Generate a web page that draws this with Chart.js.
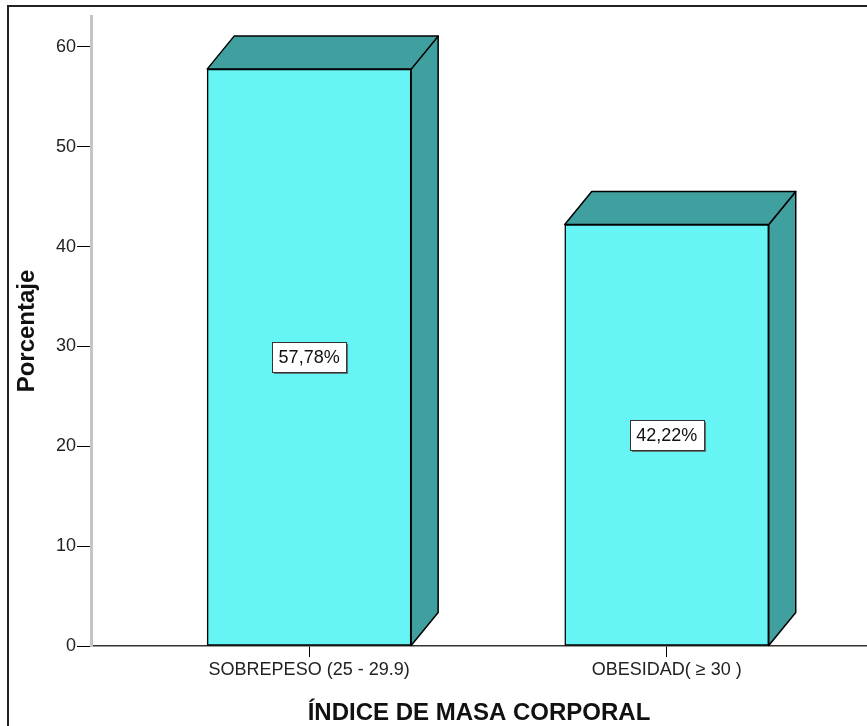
<!DOCTYPE html>
<html>
<head>
<meta charset="utf-8">
<script src="https://cdn.jsdelivr.net/npm/chart.js@4.4.0/dist/chart.umd.min.js"></script>
<style>
  html, body { margin: 0; padding: 0; background: #fff; }
  #frame { position: absolute; left: 7px; top: 5px; width: 900px; height: 800px;
           border-left: 2px solid #222; border-top: 2px solid #222; }
  #chart { position: absolute; left: 0; top: 0; }
</style>
</head>
<body>
<div id="frame"></div>
<canvas id="chart" width="867" height="726"></canvas>
<script>
// Datos del gráfico
const categorias = ['SOBREPESO (25 - 29.9)', 'OBESIDAD( \u2265 30 )'];
const porcentajes = [57.78, 42.22];
const ticksY = [0, 10, 20, 30, 40, 50, 60];

const FRENTE = '#66f4f4';
const LADO = '#40a0a0';
const PROF_X = 27, PROF_Y = 33;

// Caras lateral y superior de las barras (efecto 3D)
const barras3d = {
    id: 'barras3d',
    beforeDatasetsDraw(chart) {
        const ctx = chart.ctx;
        chart.getDatasetMeta(0).data.forEach((bar) => {
            const izq = bar.x - bar.width / 2;
            const der = bar.x + bar.width / 2;
            const arriba = bar.y;
            const base = bar.base;
            ctx.save();
            ctx.fillStyle = LADO;
            ctx.strokeStyle = '#000';
            ctx.lineWidth = 1.5;
            ctx.lineJoin = 'round';
            // lateral
            ctx.beginPath();
            ctx.moveTo(der, arriba);
            ctx.lineTo(der + PROF_X, arriba - PROF_Y);
            ctx.lineTo(der + PROF_X, base - PROF_Y);
            ctx.lineTo(der, base);
            ctx.closePath();
            ctx.fill();
            ctx.stroke();
            // superior
            ctx.beginPath();
            ctx.moveTo(izq, arriba);
            ctx.lineTo(izq + PROF_X, arriba - PROF_Y);
            ctx.lineTo(der + PROF_X, arriba - PROF_Y);
            ctx.lineTo(der, arriba);
            ctx.closePath();
            ctx.fill();
            ctx.stroke();
            ctx.restore();
        });
    },
    afterDatasetsDraw(chart) {
        const ctx = chart.ctx;
        chart.getDatasetMeta(0).data.forEach((bar, i) => {
            const texto = porcentajes[i].toFixed(2).replace('.', ',') + '%';
            ctx.save();
            ctx.font = '18px "Liberation Sans", Arial, sans-serif';
            const w = ctx.measureText(texto).width + 13;
            const h = 30;
            const cx = bar.x;
            const cy = (bar.y + bar.base) / 2;
            const x0 = Math.round(cx - w / 2) + 0.5;
            const y0 = Math.round(cy - h / 2) + 0.5;
            // sombra
            ctx.fillStyle = '#5a7a7a';
            ctx.fillRect(x0 + 1.5, y0 + 1.5, w, h);
            ctx.fillStyle = '#fff';
            ctx.fillRect(x0, y0, w, h);
            ctx.strokeStyle = '#333';
            ctx.lineWidth = 1;
            ctx.strokeRect(x0, y0, w, h);
            ctx.fillStyle = '#111';
            ctx.textAlign = 'center';
            ctx.textBaseline = 'middle';
            ctx.fillText(texto, cx, cy + 1);
            ctx.restore();
        });
    }
};

const ctx = document.getElementById('chart').getContext('2d');
const grafico = new Chart(ctx, {
    type: 'bar',
    data: {
        datasets: [{
            label: 'Porcentaje',
            data: categorias.map((c, i) => ({ x: i, y: porcentajes[i] })),
            backgroundColor: FRENTE,
            borderColor: '#000',
            borderWidth: 1.5,
            borderSkipped: false,
            barThickness: 204
        }]
    },
    options: {
        responsive: false,
        animation: false,
        devicePixelRatio: 1,
        layout: { padding: { left: 0, right: 0, top: 16, bottom: 0 } },
        plugins: {
            legend: { display: false },
            tooltip: { enabled: false }
        },
        scales: {
            x: {
                type: 'linear',
                offset: false,
                min: -0.61,
                max: 1.56,
                afterBuildTicks: (scale) => {
                    scale.ticks = categorias.map((c, i) => ({ value: i }));
                },
                afterFit: (scale) => { scale.height = 80; },
                ticks: {
                    callback: (v) => categorias[v],
                    font: { family: '"Liberation Sans", Arial, sans-serif', size: 18 },
                    color: '#222',
                    padding: 2,
                    maxRotation: 0,
                    autoSkip: false
                },
                grid: {
                    offset: false,
                    drawOnChartArea: false,
                    drawTicks: true,
                    tickLength: 11,
                    color: '#000',
                    lineWidth: 1
                },
                border: { display: true, color: '#333', width: 1.5 },
                title: {
                    display: true,
                    text: 'ÍNDICE DE MASA CORPORAL',
                    color: '#111',
                    font: { family: '"Liberation Sans", Arial, sans-serif', size: 24, weight: 'bold', lineHeight: 1 },
                    padding: { top: 0, bottom: 1 }
                }
            },
            y: {
                min: 0,
                max: 63.1,
                afterBuildTicks: (scale) => {
                    scale.ticks = ticksY.map((v) => ({ value: v }));
                },
                afterFit: (scale) => { scale.width = 91; },
                ticks: {
                    font: { family: '"Liberation Sans", Arial, sans-serif', size: 18 },
                    color: '#222',
                    padding: 1
                },
                grid: {
                    drawOnChartArea: false,
                    drawTicks: true,
                    tickLength: 14,
                    color: '#000',
                    lineWidth: 1
                },
                border: { display: true, color: '#c4c4c4', width: 3 },
                title: {
                    display: true,
                    text: 'Porcentaje',
                    color: '#111',
                    font: { family: '"Liberation Sans", Arial, sans-serif', size: 24, weight: 'bold', lineHeight: 1 },
                    padding: { top: 15, bottom: 0 }
                }
            }
        }
    },
    plugins: [barras3d]
});
</script>
</body>
</html>
